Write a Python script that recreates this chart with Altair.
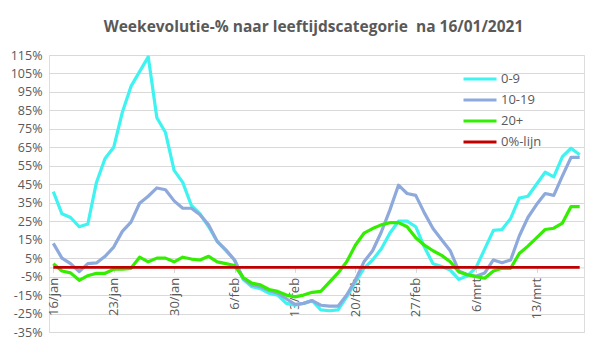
import altair as alt
import pandas as pd

# ---- data ----
start_date = "2021-01-16"
n_days = 62
dates = pd.date_range(start_date, periods=n_days, freq="D").strftime("%Y-%m-%dT00:00:00").tolist()

v_0_9 = [41, 29, 27, 22, 23.5, 46, 59, 65, 84, 98,
         106, 114, 81, 73, 52.5, 46, 33.5, 29, 22, 14,
         9, 4, -6.5, -10.5, -11.5, -14, -15, -19.5, -20.5, -19.5,
         -18, -23, -23.5, -23, -16, -8, -0.5, 4, 10, 18.5,
         25, 25, 22, 11, 2, 0.5, -1.5, -6.5, -4.5, 0,
         10, 20, 20.5, 26.5, 37.5, 38.5, 45, 51.5, 49, 60,
         64.5, 61]
v_10_19 = [13, 5, 2, -2.3, 2, 2.4, 6, 11, 19.5, 24.5,
           34.7, 38.5, 43, 42, 36, 32, 32, 28.5, 23, 14,
           9.5, 4, -6, -9.5, -10.5, -12.5, -14, -17, -20, -19.5,
           -18, -20.5, -21, -21, -15, -7, 3, 9, 19, 31,
           44.5, 40, 39, 29.5, 21, 15, 9, -2, -4, -4.8,
           -3, 4, 2.5, 4, 17, 27, 34, 40, 39, 49.5,
           59.6, 59.6]
v_20p = [2, -2, -3, -7, -4.5, -3.2, -3.2, -1, -1, -0.5,
         5.5, 3, 5, 5, 3, 5.5, 4.5, 4, 6, 3,
         2, 1, -5.5, -8.5, -9.5, -12, -13, -15, -16, -15,
         -13.5, -13, -8, -3, 3, 12, 18.5, 21, 23, 24.2,
         24.2, 22, 16, 12, 9, 6.5, 3, -2.5, -4, -5,
         -5.9, -2, -0.5, -0.5, 7.5, 11.5, 16, 20.5, 21.2, 24,
         32.9, 32.9]
v_zero = [0] * n_days

series_names = ["0-9", "10-19", "20+", "0%-lijn"]
series_values = [v_0_9, v_10_19, v_20p, v_zero]
series_colors = ["#3FF3F0", "#8EA9DB", "#33EE00", "#C00000"]
series_widths = [3.2, 3.2, 3.2, 2.6]

y_ticks = list(range(-35, 116, 10))
x_tick_dates = ["2021-01-16", "2021-01-23", "2021-01-30", "2021-02-06",
                "2021-02-13", "2021-02-20", "2021-02-27", "2021-03-06", "2021-03-13"]
month_names = ["jan", "feb", "mrt", "apr"]

title_text = "Weekevolutie-% naar leeftijdscategorie \u00a0na 16/01/2021"

# ---- table ----
rows = []
for name, vals in zip(series_names, series_values):
    for d, v in zip(dates, vals):
        rows.append({"datum": d, "waarde": v, "reeks": name})
df = pd.DataFrame(rows)

def dt(s, hours=0):
    y, m, d = [int(p) for p in s.split("-")]
    return alt.DateTime(year=y, month=m, date=d, hours=hours)

W, H = 535, 277
y_min, y_max = -35, 115
axis_offset = -H * (0 - y_min) / (y_max - y_min)

TXT = "#595959"
FONT = "Open Sans"

x_enc = alt.X(
    "datum:T",
    scale=alt.Scale(domain=[dt("2021-01-15", 12), dt("2021-03-18", 12)]),
    axis=alt.Axis(
        title=None,
        values=[dt(s) for s in x_tick_dates],
        labelExpr="date(datum.value) + '/' + " + str(month_names) + "[month(datum.value)]",
        labelAngle=270,
        labelAlign="right",
        labelBaseline="middle",
        labelPadding=5,
        labelFontSize=13,
        labelColor=TXT,
        labelFont=FONT,
        labelOverlap=False,
        grid=False,
        domainColor="#D9D9D9",
        tickColor="#D9D9D9",
        tickSize=5,
        offset=axis_offset,
    ),
)
y_enc = alt.Y(
    "waarde:Q",
    scale=alt.Scale(domain=[y_min, y_max], nice=False, zero=False),
    axis=alt.Axis(
        title=None,
        values=y_ticks,
        labelExpr="datum.value + '%'",
        labelFontSize=12.5,
        labelColor=TXT,
        labelFont=FONT,
        labelPadding=7,
        domain=False,
        ticks=False,
        grid=True,
        gridColor="#D9D9D9",
        gridWidth=1,
    ),
)
color_enc = alt.Color(
    "reeks:N",
    scale=alt.Scale(domain=series_names, range=series_colors),
    legend=alt.Legend(
        title=None,
        orient="none",
        legendX=413,
        legendY=16,
        symbolType="stroke",
        symbolSize=1089,
        symbolStrokeWidth=3,
        labelFontSize=13,
        labelColor=TXT,
        labelFont=FONT,
        labelOffset=3,
        clipHeight=16,
        rowPadding=5,
    ),
)

layers = []
for name, w in zip(series_names, series_widths):
    layers.append(
        alt.Chart(df)
        .transform_filter(alt.datum.reeks == name)
        .mark_line(strokeWidth=w, strokeJoin="round")
        .encode(x=x_enc, y=y_enc, color=color_enc)
    )

chart = (
    alt.layer(*layers)
    .properties(
        width=W,
        height=H,
        title=alt.TitleParams(
            text=title_text,
            font=FONT,
            fontSize=15.5,
            fontWeight="bold",
            color=TXT,
            anchor="middle",
            baseline="alphabetic",
            offset=2,
            dx=-3,
        ),
        autosize=alt.AutoSizeParams(type="none"),
        padding={"left": 41, "top": 47, "right": 7, "bottom": 10},
    )
    .configure_view(stroke=None)
    .configure(background="white")
)

chart.save("out.html", embed_options={"renderer": "svg", "actions": False})
